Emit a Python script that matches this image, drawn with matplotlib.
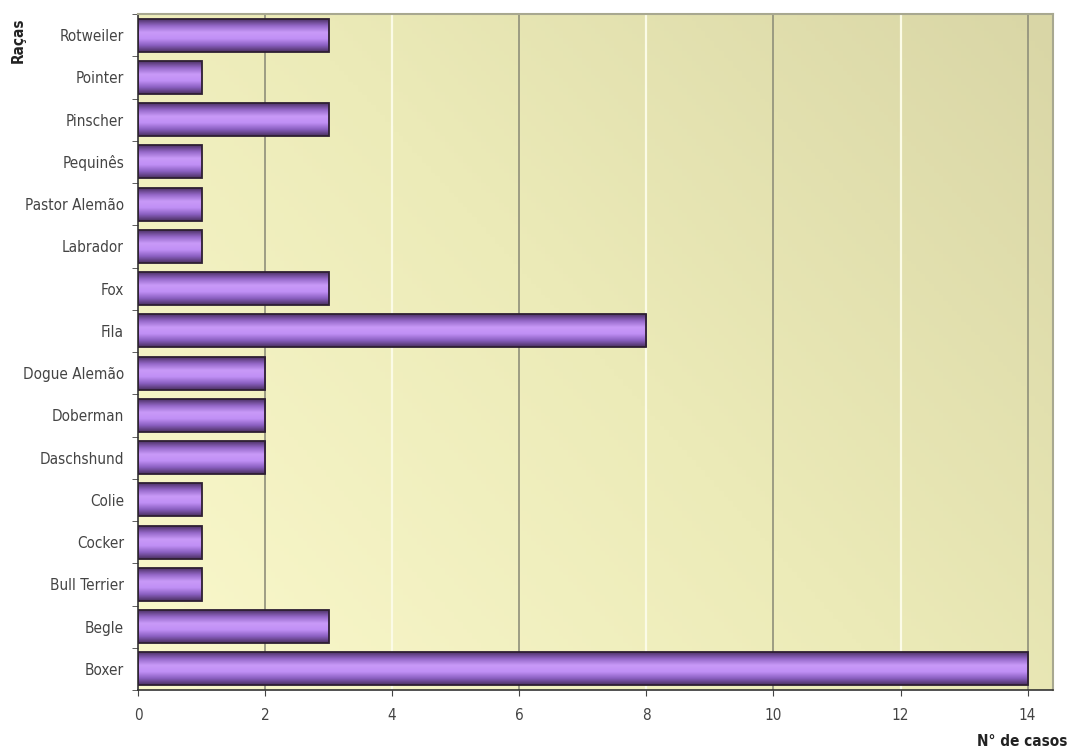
import matplotlib.pyplot as plt
import numpy as np
from matplotlib.colors import LinearSegmentedColormap

racas = ["Boxer", "Begle", "Bull Terrier", "Cocker", "Colie", "Daschshund",
         "Doberman", "Dogue Alemão", "Fila", "Fox", "Labrador", "Pastor Alemão",
         "Pequinês", "Pinscher", "Pointer", "Rotweiler"]
casos = [14, 3, 1, 1, 1, 2, 2, 2, 8, 3, 1, 1, 1, 3, 1, 3]
x_ticks = [0, 2, 4, 6, 8, 10, 12, 14]

plt.rcParams['font.family'] = ['DejaVu Sans']
plt.rcParams['font.stretch'] = 'condensed'

fig = plt.figure(figsize=(10.75, 7.56), dpi=100)
ax = fig.add_axes([138 / 1075, 1 - 690 / 756, (1053 - 138) / 1075, (690 - 14) / 756])

xmax = 14.4
ymin, ymax = -0.5, len(racas) - 0.5

# diagonal background gradient: pale yellow bottom-left, olive top-right
gx, gy = np.meshgrid(np.linspace(0, 1, 200), np.linspace(0, 1, 200))
g = (gx * 0.6 + gy * 0.4)
bg_cmap = LinearSegmentedColormap.from_list("bg", ["#faf8cc", "#ecebb8", "#d9d6a6"])
ax.imshow(g, cmap=bg_cmap, extent=[0, xmax, ymin, ymax], origin="lower",
          aspect="auto", zorder=0)

# alternating grid lines
for t in x_ticks[1:]:
    if t % 4 == 2:
        ax.axvline(t, color="#8f8f7a", lw=1.2, zorder=1)
    else:
        ax.axvline(t, color="#fbfbe6", lw=1.6, zorder=1)

bars = ax.barh(range(len(racas)), casos, height=0.78, color="none",
               edgecolor="#2e1f33", lw=1.3, zorder=3)

# cylinder shading inside each bar
bar_cmap = LinearSegmentedColormap.from_list(
    "bar", ["#4a3060", "#8a5fc0", "#c08ff5", "#c99af8", "#9468c8", "#4e3268"])
shade = np.linspace(0, 1, 100).reshape(-1, 1)
for b in bars:
    x0, y0 = b.get_x(), b.get_y()
    w, h = b.get_width(), b.get_height()
    im = ax.imshow(shade, cmap=bar_cmap, extent=[x0, x0 + w, y0 + h, y0],
                   aspect="auto", zorder=2, interpolation="bilinear")
    im.set_clip_path(b)

ax.set_xlim(0, xmax)
ax.set_ylim(ymin, ymax)

ax.set_xticks(x_ticks)
ax.set_xticklabels([str(t) for t in x_ticks], fontsize=11, color="#444444")
ax.set_yticks(range(len(racas)))
ax.set_yticklabels(racas, fontsize=11, color="#444444")
ax.tick_params(axis="y", length=0, pad=10)
ax.tick_params(axis="x", length=4, color="#444444", pad=9)
ax.set_yticks(np.arange(ymin, ymax + 0.01, 1), minor=True)
ax.tick_params(axis="y", which="minor", length=4, color="#444444")

for side in ["left", "bottom"]:
    ax.spines[side].set_color("#333333")
    ax.spines[side].set_linewidth(1.2)
for side in ["top", "right"]:
    ax.spines[side].set_color("#a8a890")
    ax.spines[side].set_linewidth(1.5)

fig.text(18 / 1075, 1 - 40 / 756, "Raças", rotation=90, fontsize=11,
         fontweight="bold", ha="center", va="center", color="#222222")
fig.text(1022 / 1075, 1 - 742 / 756, "N° de casos", fontsize=11,
         fontweight="bold", ha="center", va="center", color="#222222")

fig.savefig("out.png", dpi=100)
